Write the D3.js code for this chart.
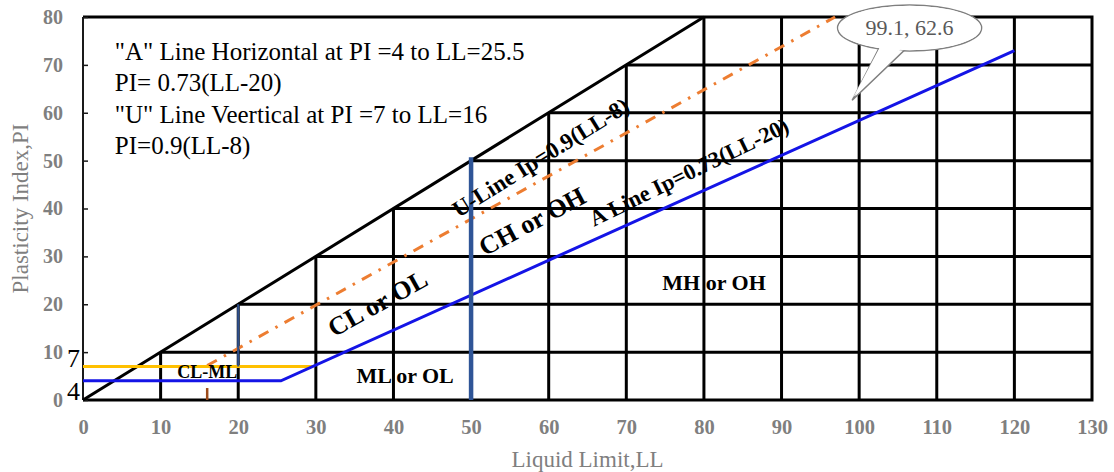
<!DOCTYPE html>
<html><head><meta charset="utf-8">
<script src="https://cdn.jsdelivr.net/npm/d3@7"></script>
<style>body{margin:0;background:#fff} svg{display:block}</style>
</head><body>
<svg id="chart" width="1114" height="472"></svg>
<script>
// ---------- data ----------
const xTicks = [0,10,20,30,40,50,60,70,80,90,100,110,120,130];
const yTicks = [0,10,20,30,40,50,60,70,80];
const verticalGridLL = [10,20,30,40,50,60,70,80,90,100,110,120];
const horizontalGridPI = [10,20,30,40,50,60,70];
const upperLimitLine = [[0,0],[80,80]];          // PI = LL
const aLine = [[0,4],[25.5,4],[120,73]];          // PI=4 to LL=25.5, then 0.73(LL-20)
const uLine = [[16,7.2],[96.9,80]];               // PI=0.9(LL-8)
const uStub = [[16,0],[16,2.5]];
const pi7Line = [[0,7],[29.6,7]];
const ll20Line = [[20,7],[20,20]];
const ll50Line = [[50,0],[50,50.7]];
const calloutPoint = [99.1, 62.6];
const calloutText = "99.1, 62.6";
const noteLines = [
  "\"A\" Line Horizontal at PI =4 to LL=25.5",
  "PI= 0.73(LL-20)",
  "\"U\" Line Veertical at PI =7 to LL=16",
  "PI=0.9(LL-8)"
];
const extraYLabels = [{t:"7", v:7}, {t:"4", v:4}];

// ---------- layout ----------
const svg = d3.select("#chart");
const x = d3.scaleLinear().domain([0,130]).range([83,1092]);
const y = d3.scaleLinear().domain([0,80]).range([400,17]);
const serif = "'Liberation Serif','Times New Roman',serif";
const line = d3.line().x(d=>x(d[0])).y(d=>y(d[1]));

const g = svg.append("g");

// grid (clipped by PI = LL)
g.selectAll(".vg").data(verticalGridLL).enter().append("line")
  .attr("x1", d=>x(d)).attr("x2", d=>x(d))
  .attr("y1", y(0)).attr("y2", d=>y(Math.min(d,80)))
  .attr("stroke","#000").attr("stroke-width",3);
g.selectAll(".hg").data(horizontalGridPI).enter().append("line")
  .attr("x1", d=>x(d)).attr("x2", x(130))
  .attr("y1", d=>y(d)).attr("y2", d=>y(d))
  .attr("stroke","#000").attr("stroke-width",3);

// border
g.append("path").attr("d", line([[0,80],[130,80],[130,0],[0,0]]))
  .attr("fill","none").attr("stroke","#000").attr("stroke-width",3);
g.append("line").attr("x1",x(0)).attr("x2",x(0)).attr("y1",y(0)).attr("y2",y(80))
  .attr("stroke","#1a1a1a").attr("stroke-width",2);

// axes
const yAxis = d3.axisLeft(y).tickValues(yTicks).tickSizeInner(-5).tickSizeOuter(0).tickPadding(20);
const ya = g.append("g").attr("transform",`translate(${x(0)},0)`).call(yAxis);
ya.select(".domain").remove();
ya.selectAll(".tick line").attr("stroke","#1a1a1a").attr("stroke-width",1.5);
ya.selectAll("text").attr("font-family",serif).attr("font-size",20).attr("font-weight","bold").attr("fill","#7f7f7f");

const xAxis = d3.axisBottom(x).tickValues(xTicks).tickSize(0).tickPadding(19);
const xa = g.append("g").attr("transform",`translate(0,${y(0)})`).call(xAxis);
xa.select(".domain").remove();
xa.selectAll("text").attr("font-family",serif).attr("font-size",20.5).attr("font-weight","bold").attr("fill","#7f7f7f");

// extra y labels 7 and 4
g.append("text").attr("x", x(0)-3).attr("y", y(extraYLabels[0].v)+1)
  .attr("text-anchor","end").attr("font-family",serif).attr("font-size",26).attr("fill","#000").text(extraYLabels[0].t);
g.append("text").attr("x", x(0)-3).attr("y", y(0))
  .attr("text-anchor","end").attr("font-family",serif).attr("font-size",26).attr("fill","#000").text(extraYLabels[1].t);

// lines
g.append("path").attr("d", line(upperLimitLine)).attr("fill","none").attr("stroke","#000").attr("stroke-width",3);
g.append("path").attr("d", line(uLine)).attr("fill","none").attr("stroke","#ED7D31").attr("stroke-width",3)
  .attr("stroke-dasharray","11,8,2.5,8");
g.append("path").attr("d", line(pi7Line)).attr("fill","none").attr("stroke","#FFC000").attr("stroke-width",3);
g.append("path").attr("d", line(aLine)).attr("fill","none").attr("stroke","#1414E6").attr("stroke-width",3);
g.append("path").attr("d", line(ll20Line)).attr("fill","none").attr("stroke","#2F4F8A").attr("stroke-width",2.2);
g.append("path").attr("d", line(ll50Line)).attr("fill","none").attr("stroke","#2F5597").attr("stroke-width",4.5);
g.append("path").attr("d", line(uStub)).attr("fill","none").attr("stroke","#9C4A1A").attr("stroke-width",2.5);

// note text
const noteG = g.append("text").attr("font-family",serif).attr("font-size",25).attr("fill","#000");
noteLines.forEach((t,i)=>{
  noteG.append("tspan").attr("x", x(4.1)).attr("y", y(71.0) + i*31.3).text(t);
});

// region labels
const labels = [
  {t:"CL-ML", ll:16.0, pi:4.6, a:0, s:18},
  {t:"ML or OL", ll:41.5, pi:3.55, a:0, s:22},
  {t:"MH or OH", ll:81.3, pi:23.0, a:0, s:22},
  {t:"CL or OL", ll:38.5, pi:18.6, a:-29, s:26},
  {t:"CH or OH", ll:58.4, pi:35.7, a:-28, s:26},
  {t:"U-Line Ip=0.9(LL-8)", ll:59.5, pi:49.3, a:-32, s:23},
  {t:"A Line Ip=0.73(LL-20)", ll:78.5, pi:46.2, a:-26, s:22.5}
];
g.selectAll(".lbl").data(labels).enter().append("text")
  .attr("transform", d=>`translate(${x(d.ll)},${y(d.pi)}) rotate(${d.a})`)
  .attr("text-anchor","middle").attr("font-family",serif).attr("font-weight","bold")
  .attr("font-size", d=>d.s).attr("fill","#000").text(d=>d.t);

// axis titles
g.append("text").attr("x",(x(0)+x(130))/2).attr("y",467).attr("text-anchor","middle")
  .attr("font-family",serif).attr("font-size",23).attr("fill","#7f7f7f").text("Liquid Limit,LL");
g.append("text").attr("transform",`translate(28,${(y(0)+y(80))/2}) rotate(-90)`).attr("text-anchor","middle")
  .attr("font-family",serif).attr("font-size",23).attr("fill","#7f7f7f").text("Plasticity Index,PI");

// callout
const cx = x(106.5), cy = y(77.7), rx = 72, ry = 23;
const tip = [x(calloutPoint[0]), y(calloutPoint[1])];
const tail = [[cx-30, cy+19], tip, [cx-5, cy+22]];
const cg = g.append("g");
cg.append("ellipse").attr("cx",cx).attr("cy",cy).attr("rx",rx).attr("ry",ry)
  .attr("fill","#fff").attr("stroke","#7f7f7f").attr("stroke-width",1.5);
cg.append("polygon").attr("points", tail.map(p=>p.join(",")).join(" "))
  .attr("fill","#fff").attr("stroke","#7f7f7f").attr("stroke-width",1.5);
cg.append("ellipse").attr("cx",cx).attr("cy",cy).attr("rx",rx-0.8).attr("ry",ry-0.8).attr("fill","#fff");
cg.append("polygon").attr("points", [[cx-28, cy+16], [tip[0]+1, tip[1]-3], [cx-7, cy+19]].map(p=>p.join(",")).join(" "))
  .attr("fill","#fff");
cg.append("text").attr("x",cx).attr("y",cy+7).attr("text-anchor","middle")
  .attr("font-family",serif).attr("font-size",22).attr("fill","#595959").text(calloutText);
</script>
</body></html>
